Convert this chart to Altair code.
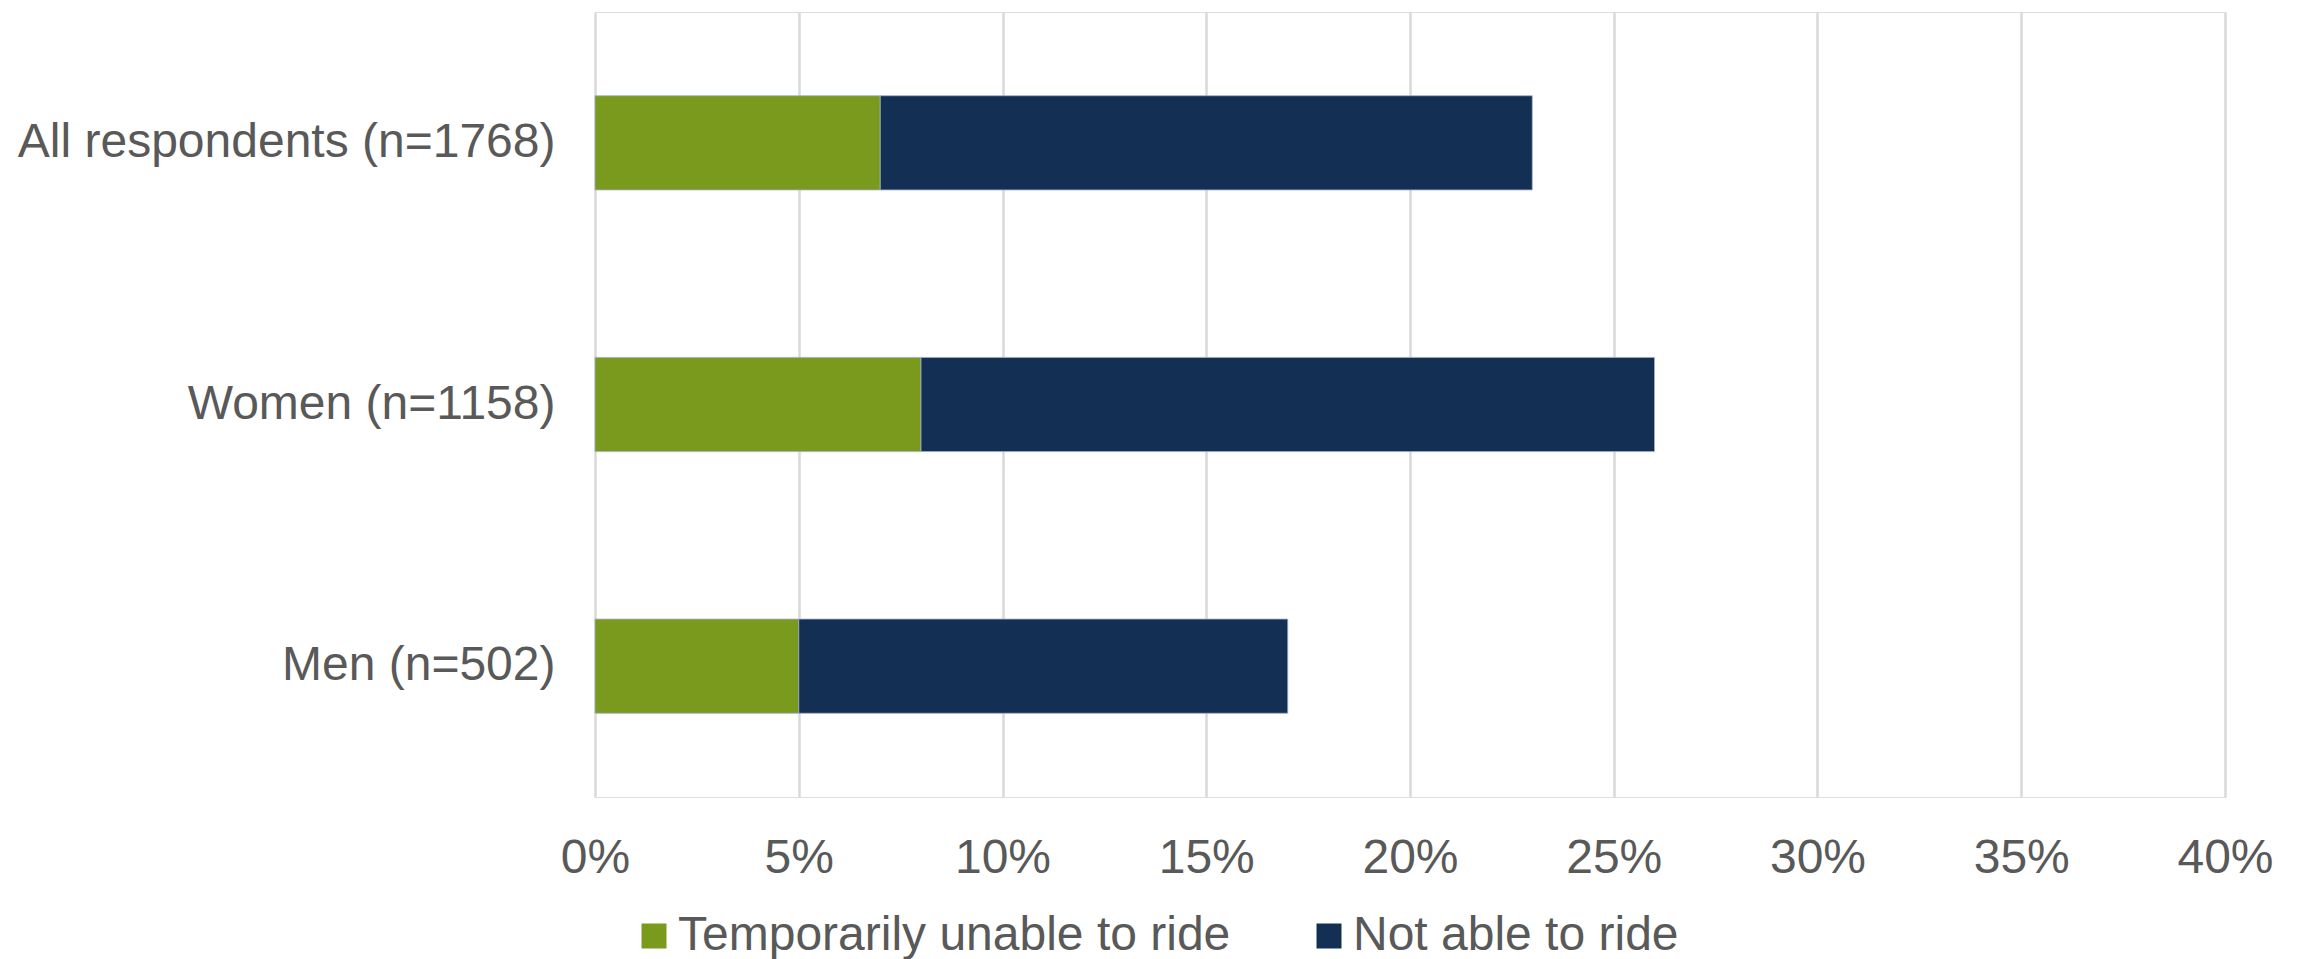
import altair as alt
import pandas as pd

groups = ["All respondents (n=1768)", "Women (n=1158)", "Men (n=502)"]
series = ["Temporarily unable to ride", "Not able to ride"]
temporarily = [7, 8, 5]
not_able = [16, 18, 12]
colors = ["#7A9A1E", "#142F54"]
x_ticks = [0, 5, 10, 15, 20, 25, 30, 35, 40]

rows = []
for g, t, n in zip(groups, temporarily, not_able):
    rows.append({"group": g, "series": series[0], "value": t / 100, "ord": 0})
    rows.append({"group": g, "series": series[1], "value": n / 100, "ord": 1})
df = pd.DataFrame(rows)

FONT = "Liberation Sans, Arial, sans-serif"
TXT = "#595959"

chart = alt.Chart(df).mark_bar(stroke="#9fb0c6", strokeWidth=0.8).encode(
    y=alt.Y("group:N", sort=groups, title=None,
            scale=alt.Scale(paddingInner=0.64, paddingOuter=0.32),
            axis=alt.Axis(labelFontSize=48, labelColor=TXT, labelFont=FONT,
                          labelPadding=40, ticks=False, domain=False, grid=False,
                          labelLimit=800)),
    x=alt.X("value:Q", stack="zero", title=None,
            scale=alt.Scale(domain=[0, 0.4], nice=False),
            axis=alt.Axis(values=[v / 100 for v in x_ticks], format=".0%",
                          labelFontSize=48, labelColor=TXT, labelFont=FONT,
                          labelPadding=37, labelFlush=False, ticks=False, domain=False,
                          grid=True, gridColor="#d9d9d9", gridWidth=2.5)),
    color=alt.Color("series:N", sort=series,
                    scale=alt.Scale(domain=series, range=colors),
                    legend=alt.Legend(orient="none", legendX=35, legendY=900,
                                      direction="horizontal", title=None,
                                      symbolType="square", symbolSize=625,
                                      symbolStrokeWidth=0,
                                      labelFontSize=48, labelColor=TXT,
                                      labelFont=FONT, labelOffset=0,
                                      columnPadding=74, labelLimit=1000)),
    order=alt.Order("ord:Q"),
).properties(
    width=1630, height=785,
    autosize=alt.AutoSizeParams(type="none"),
    padding={"left": 587, "top": 4, "right": 70, "bottom": 162},
).configure_view(stroke=None).configure(background="white")

chart.save("out.html", embed_options={"renderer": "svg", "actions": False})
